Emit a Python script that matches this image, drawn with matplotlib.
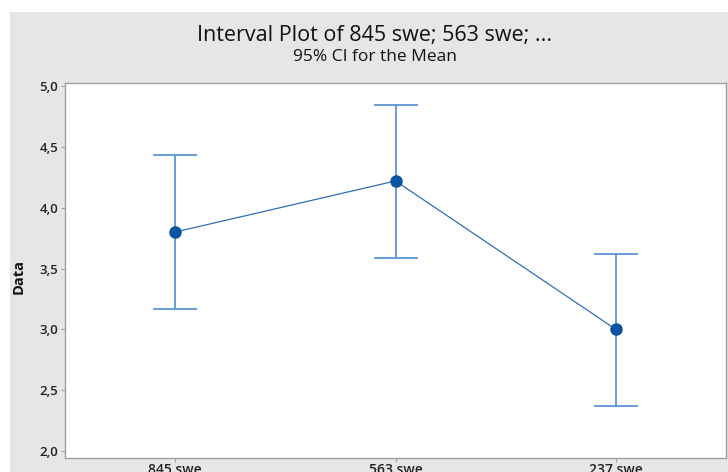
import matplotlib.pyplot as plt
from matplotlib.patches import Rectangle
from matplotlib.ticker import FuncFormatter

groups = ["845 swe", "563 swe", "237 swe"]
means = [3.80, 4.22, 3.00]
lower = [3.17, 3.585, 2.37]
upper = [4.43, 4.845, 3.62]

plt.rcParams['font.family'] = ['Open Sans', 'DejaVu Sans']

fig = plt.figure(figsize=(7.28, 4.72), dpi=100)
fig.patch.set_facecolor('white')
# grey panel behind everything, offset a bit from the top-left corner
fig.patches.append(Rectangle((10 / 728, 0), 1, 1 - 12 / 472, transform=fig.transFigure,
                             facecolor='#e6e6e6', edgecolor='none', zorder=-10))

ax = fig.add_axes([65 / 728, 1 - 457.7 / 472, 661 / 728, 374.7 / 472])
ax.set_facecolor('white')

x = list(range(len(groups)))
yerr = [[m - l for m, l in zip(means, lower)], [u - m for m, u in zip(means, upper)]]
ax.errorbar(x, means, yerr=yerr, fmt='none', ecolor='#4f8fd0', elinewidth=1.2,
            capsize=15.5, capthick=1.2, zorder=2)
ax.plot(x, means, color='#2f6fb8', lw=0.9, zorder=3)
ax.plot(x, means, 'o', color='#0a52a2', ms=8, zorder=4)

ax.set_xlim(-0.5, 2.5)
ax.set_ylim(1.945, 5.025)
ax.set_xticks(x)
ax.set_xticklabels(groups, fontsize=10, color='#222222')
ax.set_yticks([2.0, 2.5, 3.0, 3.5, 4.0, 4.5, 5.0])
ax.yaxis.set_major_formatter(FuncFormatter(lambda v, p: f"{v:.1f}".replace('.', ',')))
ax.tick_params(axis='y', labelsize=9.5, colors='#a0a0a0', labelcolor='#222222', length=3, width=0.8, pad=2)
ax.tick_params(axis='x', colors='#a0a0a0', labelcolor='#222222', length=3, width=0.8, pad=1)
for lbl in ax.get_yticklabels() + ax.get_xticklabels():
    lbl.set_fontweight('semibold')
for s in ax.spines.values():
    s.set_color('#a0a0a0')
    s.set_linewidth(1.0)

ax.set_ylabel("Data", fontsize=10.5, fontweight='bold', color='#111111')
ax.yaxis.set_label_coords(-39 / 661, (457.7 - 277) / 374.7)

fig.text(375 / 728, 1 - 35 / 472, "Interval Plot of 845 swe; 563 swe; ...", ha='center', va='center',
         fontsize=15.5, color='#111111')
fig.text(375 / 728, 1 - 57 / 472, "95% CI for the Mean", ha='center', va='center',
         fontsize=12.5, color='#111111')

fig.savefig("out.png", dpi=100)
